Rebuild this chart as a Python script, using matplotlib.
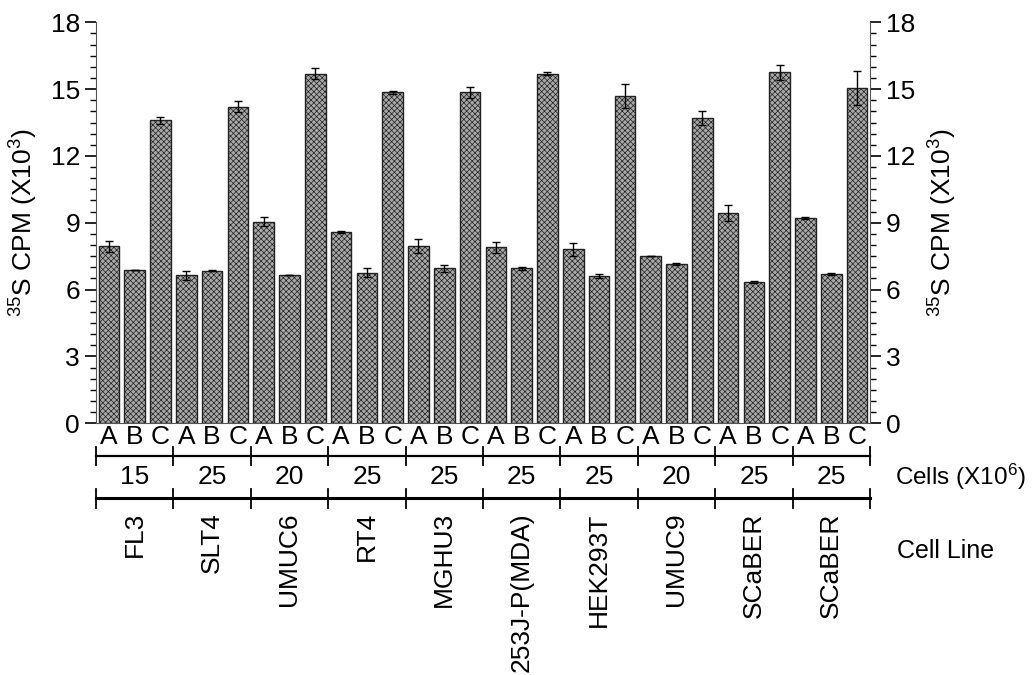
import matplotlib.pyplot as plt
import matplotlib.transforms as mtransforms
import numpy as np

plt.rcParams['font.family'] = ['Liberation Sans', 'DejaVu Sans']
plt.rcParams['mathtext.fontset'] = 'custom'
plt.rcParams['mathtext.rm'] = 'Liberation Sans'
plt.rcParams['mathtext.it'] = 'Liberation Sans'
plt.rcParams['hatch.color'] = '#5e5e5e'
plt.rcParams['hatch.linewidth'] = 0.5

cell_lines = ['FL3', 'SLT4', 'UMUC6', 'RT4', 'MGHU3', '253J-P(MDA)',
              'HEK293T', 'UMUC9', 'SCaBER', 'SCaBER']
cells = ['15', '25', '20', '25', '25', '25', '25', '20', '25', '25']
conditions = ['A', 'B', 'C']

# values (x10^3 CPM), A/B/C per cell line
val_a = [7.95, 6.65, 9.05, 8.60, 7.95, 7.90, 7.80, 7.50, 9.45, 9.20]
val_b = [6.90, 6.85, 6.65, 6.75, 6.95, 6.95, 6.60, 7.15, 6.35, 6.70]
val_c = [13.60, 14.20, 15.70, 14.85, 14.85, 15.70, 14.70, 13.70, 15.75, 15.05]
err_a = [0.25, 0.20, 0.20, 0.05, 0.30, 0.25, 0.30, 0.00, 0.35, 0.05]
err_b = [0.00, 0.03, 0.00, 0.20, 0.15, 0.05, 0.10, 0.05, 0.05, 0.05]
err_c = [0.15, 0.25, 0.25, 0.05, 0.25, 0.05, 0.55, 0.30, 0.35, 0.75]

values = np.column_stack([val_a, val_b, val_c]).ravel()
errors = np.column_stack([err_a, err_b, err_c]).ravel()
x = np.arange(len(values))
n_groups = len(cell_lines)
fs = 19

fig = plt.figure(figsize=(10.32, 6.75), dpi=100)
ax = fig.add_axes([0.093, 0.373, 0.750, 0.594])

ax.bar(x, values, width=0.8, color='#a8a8a8', edgecolor='#222222',
       linewidth=1.0, hatch='xxxxxx')
ax.errorbar(x, values, yerr=errors, fmt='none', ecolor='black',
            elinewidth=1.0, capsize=3, capthick=1.0)

ax.set_xlim(-0.5, len(values) - 0.5)
ax.set_ylim(0, 18)
ax.set_yticks(np.arange(0, 19, 3))
ax.set_yticks(np.arange(0, 18.01, 0.5), minor=True)
ax.set_xticks(x)
ax.set_xticklabels(conditions * n_groups, fontsize=fs)
ax.tick_params(axis='x', length=0, pad=1)
ax.tick_params(axis='y', which='major', length=8, width=1.2, labelsize=fs)
ax.tick_params(axis='y', which='minor', length=4, width=1.0)
for s in ['top', 'right']:
    ax.spines[s].set_visible(False)
ax.spines['left'].set_color('#555555')
ax.spines['bottom'].set_color('#555555')
ax.set_ylabel(r'$^{35}$S CPM (X10$^{3}$)', fontsize=fs, labelpad=8)

ax2 = ax.twinx()
ax2.set_ylim(0, 18)
ax2.set_yticks(np.arange(0, 19, 3))
ax2.set_yticks(np.arange(0, 18.01, 0.5), minor=True)
ax2.tick_params(axis='y', which='major', length=8, width=1.2, labelsize=fs)
ax2.tick_params(axis='y', which='minor', length=4, width=1.0)
for s in ['top', 'left', 'bottom']:
    ax2.spines[s].set_visible(False)
ax2.spines['right'].set_color('#555555')
ax2.set_ylabel(r'$^{35}$S CPM (X10$^{3}$)', fontsize=fs, labelpad=8)

# group brackets under the axis
trans = mtransforms.blended_transform_factory(ax.transData, ax.transAxes)
bounds = np.arange(n_groups + 1) * 3 - 0.5
for yl, y0, y1, lw in [(-0.082, -0.060, -0.105, 1.6), (-0.187, -0.165, -0.212, 2.2)]:
    ax.plot([bounds[0], bounds[-1]], [yl, yl], color='black', lw=lw,
            transform=trans, clip_on=False)
    for b in bounds:
        ax.plot([b, b], [y0, y1], color='black', lw=1.3,
                transform=trans, clip_on=False)

for i in range(n_groups):
    xc = i * 3 + 1
    ax.text(xc, -0.135, cells[i], transform=trans, ha='center', va='center',
            fontsize=fs)
    ax.text(xc, -0.222, cell_lines[i], transform=trans, ha='center', va='top',
            rotation=90, fontsize=fs)

fig.text(0.867, 1 - 477 / 675, r'Cells (X10$^{6}$)', ha='left', va='center',
         fontsize=17.5)
fig.text(0.869, 1 - 551 / 675, 'Cell Line', ha='left', va='center',
         fontsize=18)

fig.savefig('out.png', dpi=100)
